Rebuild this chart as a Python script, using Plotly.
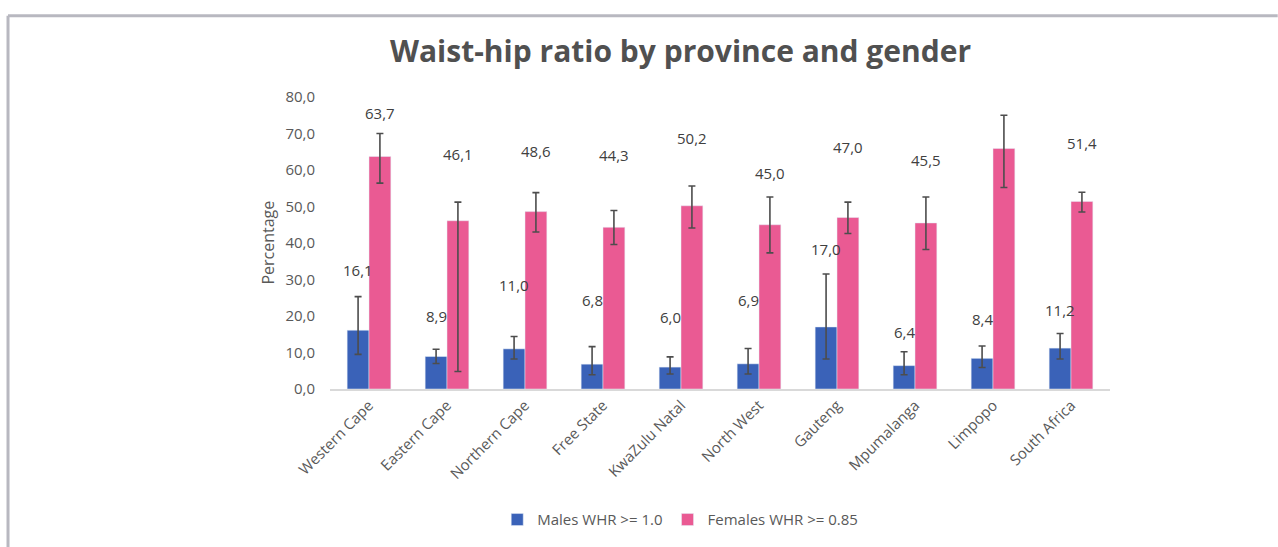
import plotly.graph_objects as go

# Provinces and national total
provinces = ["Western Cape", "Eastern Cape", "Northern Cape", "Free State", "KwaZulu Natal",
             "North West", "Gauteng", "Mpumalanga", "Limpopo", "South Africa"]

# Percentage with high waist-hip ratio
males = [16.1, 8.9, 11.0, 6.8, 6.0, 6.9, 17.0, 6.4, 8.4, 11.2]
females = [63.7, 46.1, 48.6, 44.3, 50.2, 45.0, 47.0, 45.5, 65.9, 51.4]

# 95% confidence interval bounds
males_upper = [25.3, 10.9, 14.4, 11.6, 8.8, 11.1, 31.5, 10.2, 11.8, 15.2]
males_lower = [9.5, 7.0, 8.2, 3.9, 4.1, 4.1, 8.2, 3.9, 5.9, 8.2]
females_upper = [70.0, 51.2, 53.8, 48.9, 55.6, 52.6, 51.2, 52.6, 75.0, 53.9]
females_lower = [56.4, 4.8, 43.0, 39.6, 44.1, 37.3, 42.6, 38.2, 55.2, 48.5]

# Heights (in axis units) where the value labels sit
male_label_y = [32.7, 20.0, 28.6, 24.5, 19.6, 24.5, 38.4, 15.5, 19.1, 21.6]
female_label_y = [75.6, 64.4, 65.3, 64.1, 68.7, 59.1, 66.4, 62.7, 82.6, 67.3]

BLUE = "#3a62b8"
PINK = "#ea5a93"
TEXT = "#404040"
ERR = "#4d4d4d"
FONT = "Open Sans"

def err_plus(vals, upper):
    return [round(u - v, 2) for v, u in zip(vals, upper)]

def err_minus(vals, lower):
    return [round(v - l, 2) for v, l in zip(vals, lower)]

def fmt(v):
    return f"{v:.1f}".replace(".", ",")

fig = go.Figure()
fig.add_trace(go.Bar(
    name="Males WHR >= 1.0", x=provinces, y=males, marker_color=BLUE,
    error_y=dict(type="data", symmetric=False,
                 array=err_plus(males, males_upper),
                 arrayminus=err_minus(males, males_lower),
                 color=ERR, thickness=1.6, width=3.5),
))
fig.add_trace(go.Bar(
    name="Females WHR >= 0.85", x=provinces, y=females, marker_color=PINK,
    error_y=dict(type="data", symmetric=False,
                 array=err_plus(females, females_upper),
                 arrayminus=err_minus(females, females_lower),
                 color=ERR, thickness=1.6, width=3.5),
))

# Value labels centred over each bar of the pair
annotations = []
for i, p in enumerate(provinces):
    annotations.append(dict(x=p, y=male_label_y[i], xref="x", yref="y", text=fmt(males[i]),
                            showarrow=False, xshift=-11, font=dict(size=15, color=TEXT, family=FONT)))
    annotations.append(dict(x=p, y=female_label_y[i], xref="x", yref="y", text=fmt(females[i]),
                            showarrow=False, xshift=11, font=dict(size=15, color=TEXT, family=FONT)))

# Y-axis title
annotations.append(dict(x=-0.08, y=0.5, xref="paper", yref="paper", text="Percentage",
                        textangle=-90, showarrow=False, xanchor="center", yanchor="middle",
                        font=dict(size=16, color="#595959", family=FONT)))

# Chart title
annotations.append(dict(x=0.449, y=1.16, xref="paper", yref="paper",
                        text="<b>Waist-hip ratio by province and gender</b>",
                        showarrow=False, xanchor="center", yanchor="middle",
                        font=dict(size=30, color="#505050", family=FONT)))

fig.update_layout(
    width=1278, height=547,
    margin=dict(l=330, r=168, t=97, b=157),
    paper_bgcolor="white", plot_bgcolor="white",
    barmode="group", bargap=0.44, bargroupgap=0.0,
    separators=", ",
    font=dict(family=FONT, color="#595959"),
    showlegend=True,
    legend=dict(orientation="h", x=0.449, xanchor="center", y=-0.443, yanchor="middle",
                font=dict(size=15, color="#595959", family=FONT),
                itemwidth=30, traceorder="normal"),
    annotations=annotations,
    shapes=[
        dict(type="line", xref="paper", yref="paper", x0=-0.4128, x1=1.215, y0=1.2785, y1=1.2785,
             line=dict(color="#b8b8c0", width=3)),
        dict(type="line", xref="paper", yref="paper", x0=-0.4128, x1=-0.4128, y0=1.2785, y1=-0.6,
             line=dict(color="#b8b8c0", width=3)),
    ],
)
fig.update_xaxes(showline=True, linecolor="#d9d9d9", linewidth=1.5, tickangle=-45,
                 tickfont=dict(size=15, color="#595959", family=FONT), ticks="")
fig.update_yaxes(range=[0, 80], dtick=10, tickformat=".1f", showgrid=False, zeroline=False,
                 showline=False, ticks="", ticklabelstandoff=14,
                 tickfont=dict(size=15, color="#595959", family=FONT))

fig.write_html("out.html")
